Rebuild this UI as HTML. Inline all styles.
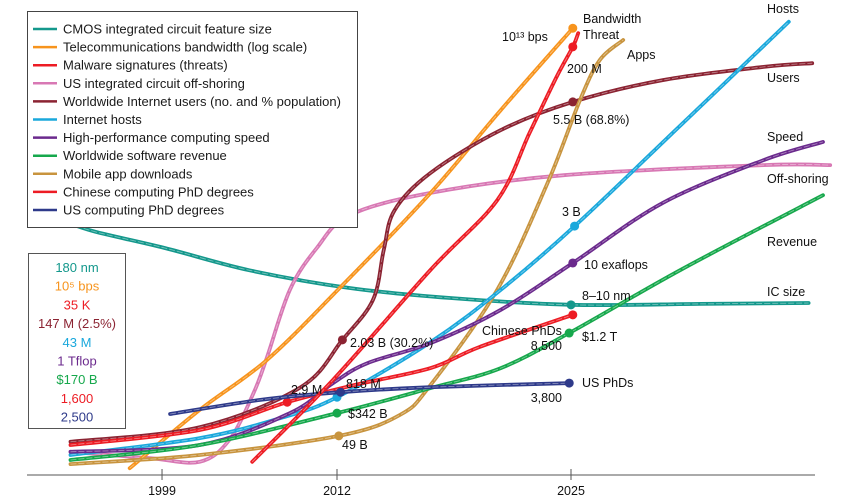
<!DOCTYPE html>
<html><head><meta charset="utf-8">
<style>
html,body{margin:0;padding:0;background:#fff;}
svg{display:block;font-family:"Liberation Sans",sans-serif;}
</style></head>
<body>
<svg id="chart" width="861" height="500" viewBox="0 0 861 500">
<g id="plot"></g>
<g id="axis"></g>
<g id="labels" font-size="12.5" fill="#111"></g>
<g id="legend"></g>
<g id="startbox"></g>
</svg>
<script>
const tickYears = [1999, 2012, 2025];
const tickLabels = ["1999", "2012", "2025"];
const seriesNames = ["CMOS integrated circuit feature size","Telecommunications bandwidth (log scale)","Malware signatures (threats)","US integrated circuit off-shoring","Worldwide Internet users (no. and % population)","Internet hosts","High-performance computing speed","Worldwide software revenue","Mobile app downloads","Chinese computing PhD degrees","US computing PhD degrees"];
const seriesColors = ["#14988c","#f7941d","#ed1c24","#d878b4","#8b2332","#1aa8dc","#6b2a8d","#16a84c","#c8943e","#ed1c24","#2e3a8a"];
const startValues = ["180 nm","10⁵ bps","35 K","147 M (2.5%)","43 M","1 Tflop","$170 B","1,600","2,500"];
const startColors = ["#14988c","#f7941d","#ed1c24","#8b2332","#1aa8dc","#6b2a8d","#16a84c","#ed1c24","#2e3a8a"];
// [year, normalized value 0-100]
const cmos = [[1991.5,56],[1994,53.5],[1999.2,49.9],[2005.5,45],[2012.7,41.1],[2018.3,38.9],[2025,37.4],[2032.2,37.6],[2038.2,37.8]];
const bandwidth = [[1996.6,1.5],[2001.8,14.3],[2006.8,25.3],[2012.2,41.3],[2017.2,62],[2021.1,80.2],[2025.1,98.2]];
const malware = [[2005.7,2.9],[2011.7,20.9],[2017.2,45.1],[2020.9,60.4],[2022.7,75.2],[2024.2,87.5],[2025.1,94.1],[2025.4,97.1]];
const offshoring = [[1992.2,5.1],[1998.1,3.7],[2001.8,2.9],[2004,7.7],[2005.8,18],[2006.8,25.9],[2008.5,40.7],[2010.5,49.9],[2012.7,57.1],[2017.2,62],[2024.6,65.9],[2035.7,68.1],[2039.4,68.1]];
const users = [[1992.2,7.3],[2001.8,10.5],[2009.3,19.3],[2012.3,29.7],[2014,38.5],[2014.6,49.5],[2015.2,58.2],[2017.2,66.4],[2021.1,75.8],[2025.1,82],[2030.1,86.8],[2035.7,89.7],[2038.4,90.5]];
const hosts = [[1992.2,4.4],[2001.8,8.1],[2007.8,12.5],[2012,17.1],[2017.2,29.2],[2021.1,40.7],[2025.2,54.7],[2031.1,76.9],[2037.1,99.6]];
const speed = [[1992.2,5.1],[2001.8,6.6],[2008.5,13.6],[2011.7,20.2],[2013.7,24.6],[2017.2,29],[2021.1,36.3],[2025.1,46.6],[2030.1,59.8],[2035.7,69.2],[2039,73.2]];
const revenue = [[1992.2,3.3],[2001.8,6.6],[2012,13.6],[2017.2,19.1],[2021.1,23.5],[2024.9,31.2],[2031.1,45.1],[2039,61.5]];
const apps = [[1992.2,2.4],[2001.8,4.4],[2012.1,8.6],[2015.5,13.2],[2017.2,19.8],[2020.9,40.7],[2023.7,64.2],[2025.5,82.4],[2026.6,91.2],[2027.9,95.6]];
const chinesePhd = [[1992.2,6.6],[2001.8,9.9],[2008.3,16],[2013,19.8],[2017.2,23.5],[2019.9,28.1],[2025.1,35.2]];
const usPhd = [[1999.6,13.4],[2006.3,16.5],[2012.2,18.2],[2017.2,19.3],[2024.9,20.2]];
const allSeries = [cmos,bandwidth,malware,offshoring,users,hosts,speed,revenue,apps,chinesePhd,usPhd];
const seriesKeys = ["cmos","bandwidth","malware","offshoring","users","hosts","speed","revenue","apps","chinese-phd","us-phd"];
const markerYears = [[2025],[2025.1],[2025.1],[],[2012.3,2025.1],[2012,2025.2],[2025.1],[2012,2024.9],[2012.1],[2008.3,2025.1],[2012.2,2024.9]];
const drawOrder = [0,3,1,4,8,5,6,7,9,10,2];

const NS="http://www.w3.org/2000/svg";
function xScale(yr){ return yr<=2012 ? 337-(2012-yr)*13.46 : 337+(yr-2012)*18; }
function yScale(v){ return 475-v*4.55; }
function mk(tag,attrs,parent){const e=document.createElementNS(NS,tag);for(const k in attrs)e.setAttribute(k,attrs[k]);parent.appendChild(e);return e;}
function pathD(pts){
  const p=pts.map(d=>[xScale(d[0]),yScale(d[1])]);
  let d="M"+p[0][0].toFixed(1)+","+p[0][1].toFixed(1);
  for(let i=0;i<p.length-1;i++){
    const p0=p[Math.max(0,i-1)],p1=p[i],p2=p[i+1],p3=p[Math.min(p.length-1,i+2)];
    const c1=[p1[0]+(p2[0]-p0[0])/6,p1[1]+(p2[1]-p0[1])/6];
    const c2=[p2[0]-(p3[0]-p1[0])/6,p2[1]-(p3[1]-p1[1])/6];
    d+=" C"+c1.map(v=>v.toFixed(1))+" "+c2.map(v=>v.toFixed(1))+" "+p2[0].toFixed(1)+","+p2[1].toFixed(1);
  }
  return d;
}
function interp(pts,yr){
  for(let i=0;i<pts.length-1;i++){if(yr>=pts[i][0]&&yr<=pts[i+1][0]){const t=(yr-pts[i][0])/(pts[i+1][0]-pts[i][0]);return pts[i][1]+t*(pts[i+1][1]-pts[i][1]);}}
  return pts[pts.length-1][1];
}
const plot=document.getElementById('plot');
drawOrder.forEach(i=>{
  const d=pathD(allSeries[i]);
  const line=mk('path',{d:d,fill:'none',stroke:seriesColors[i],'stroke-width':3.8,'stroke-linecap':'round'},plot);
  
  
  const hl=mk('path',{d:d,fill:'none',stroke:'#fff','stroke-opacity':0.45,'stroke-width':0.8,'stroke-dasharray':'6 2'},plot);
  
  
  markerYears[i].forEach(yr=>{
    const c=mk('circle',{cx:xScale(yr),cy:yScale(interp(allSeries[i],yr)),r:4.5,fill:seriesColors[i]},plot);
    
    
  });
});
// axis
const axis=document.getElementById('axis');
const al=mk('line',{x1:27,y1:475,x2:815,y2:475,stroke:'#777','stroke-width':1.3},axis);


tickYears.forEach((yr,i)=>{
  const t=mk('line',{x1:xScale(yr),y1:469,x2:xScale(yr),y2:480,stroke:'#555','stroke-width':1},axis);
  
  
  const tx=mk('text',{x:xScale(yr),y:495,'text-anchor':'middle','font-size':12.5,fill:'#111'},axis);
  tx.textContent=tickLabels[i];
  
  
});
// legend
const lg=document.getElementById('legend');
const lb=mk('rect',{x:27.5,y:11.5,width:330,height:216,fill:'#fff',stroke:'#444','stroke-width':1},lg);


seriesNames.forEach((n,i)=>{
  const y=29+i*18.1;
  const s=mk('line',{x1:33,y1:y,x2:57,y2:y,stroke:seriesColors[i],'stroke-width':2.5},lg);
  
  
  const t=mk('text',{x:63,y:y+4.5,'font-size':13,fill:'#1a1a1a'},lg);
  t.textContent=n;
  
  
});
// start values box
const sb=document.getElementById('startbox');
const sr=mk('rect',{x:28.5,y:253.5,width:97,height:175,fill:'#fff',stroke:'#555','stroke-width':1},sb);


startValues.forEach((v,i)=>{
  const t=mk('text',{x:77,y:272+i*18.7,'text-anchor':'middle','font-size':13,fill:startColors[i]},sb);
  t.textContent=v;
  
  
});
</script>
<script>
const annotations=[["10¹³ bps",502,41,"start"],["Bandwidth",583,23,"start"],["Threat",583,39,"start"],["Apps",627,59,"start"],["200 M",567,73,"start"],["5.5 B (68.8%)",553,124,"start"],["3 B",562,216,"start"],["10 exaflops",584,269,"start"],["8–10 nm",582,300,"start"],["Chinese PhDs",482,335,"start"],["8,500",562,350,"end"],["$1.2 T",582,341,"start"],["US PhDs",582,387,"start"],["3,800",562,402,"end"],["2.03 B (30.2%)",350,347,"start"],["2.9 M",291,394,"start"],["818 M",346,388,"start"],["$342 B",348,418,"start"],["49 B",342,449,"start"],["Hosts",767,13,"start"],["Users",767,82,"start"],["Speed",767,141,"start"],["Off-shoring",767,183,"start"],["Revenue",767,246,"start"],["IC size",767,296,"start"]];
const lab=document.getElementById('labels');
annotations.forEach(a=>{
  const t=document.createElementNS("http://www.w3.org/2000/svg",'text');
  t.setAttribute('x',a[1]);t.setAttribute('y',a[2]);t.setAttribute('text-anchor',a[3]);
  t.textContent=a[0];
  
  
  lab.appendChild(t);
});
</script>
</body></html>
